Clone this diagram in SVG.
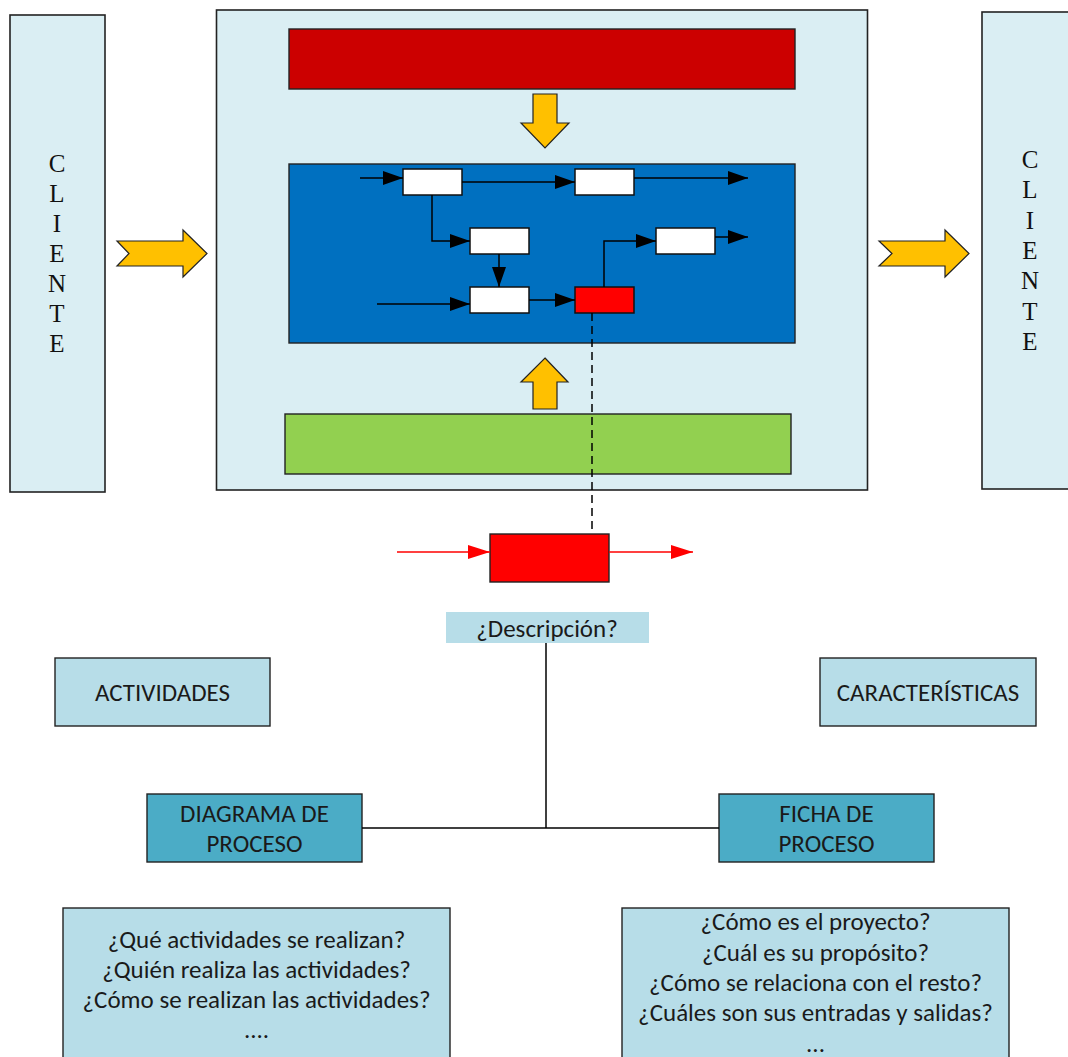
<svg xmlns="http://www.w3.org/2000/svg" width="1068" height="1057" viewBox="0 0 1068 1057">
<style>
.panel{fill:#daeef3;stroke:#222;stroke-width:1.6}
.bar{stroke:#222;stroke-width:1.4}
.wbox{fill:#fff;stroke:#111;stroke-width:1.5}
.yarrow{fill:#ffc000;stroke:#222;stroke-width:1.2;stroke-linejoin:miter}
.lbox{fill:#b7dde8;stroke:#222;stroke-width:1.4}
.dbox{fill:#4bacc6;stroke:#222;stroke-width:1.4}
.cl{font-family:"Liberation Serif","Times New Roman",serif;font-size:25px;fill:#111;text-anchor:middle}
.t{font-family:Carlito,Lato,"Liberation Sans",sans-serif;font-size:25px;fill:#1a1a1a;text-anchor:middle}
.fl{fill:none;stroke:#000;stroke-width:1.5}
.rl{fill:none;stroke:#ff0000;stroke-width:1.5}
</style>
<defs>
<marker id="ah" markerUnits="userSpaceOnUse" markerWidth="20" markerHeight="14" refX="20" refY="7" orient="auto"><path d="M0,0 L20,7 L0,14 z" fill="#000"/></marker>
<marker id="ahr" markerUnits="userSpaceOnUse" markerWidth="22" markerHeight="14" refX="22" refY="7" orient="auto"><path d="M0,0 L22,7 L0,14 z" fill="#ff0000"/></marker>
</defs>

<g id="cliente-izq">
<rect class="panel" x="10" y="15" width="95" height="477"/>
<text class="cl" x="57" y="172">C</text>
<text class="cl" x="57" y="202">L</text>
<text class="cl" x="57" y="232">I</text>
<text class="cl" x="57" y="262">E</text>
<text class="cl" x="57" y="292">N</text>
<text class="cl" x="57" y="322">T</text>
<text class="cl" x="57" y="352">E</text>
</g>

<g id="cliente-der">
<rect class="panel" x="982" y="12" width="100" height="477"/>
<text class="cl" x="1030" y="168">C</text>
<text class="cl" x="1030" y="198">L</text>
<text class="cl" x="1030" y="229">I</text>
<text class="cl" x="1030" y="259">E</text>
<text class="cl" x="1030" y="289">N</text>
<text class="cl" x="1030" y="320">T</text>
<text class="cl" x="1030" y="350">E</text>
</g>

<g id="proceso">
<rect class="panel" x="216.5" y="10" width="651" height="480"/>
<rect class="bar" x="289" y="29" width="506" height="60" fill="#cc0000"/>
<rect class="bar" x="289" y="164" width="506" height="179" fill="#0070c0"/>
<rect class="bar" x="285" y="414" width="506" height="60" fill="#92d050"/>
</g>

<g id="flechas-amarillas">
<polygon class="yarrow" points="117,241 183,241 183,230 207,253.5 183,277 183,266 117,266 129,253.5"/>
<polygon class="yarrow" points="879,241 945,241 945,230 969,253.5 945,277 945,266 879,266 892,253.5"/>
<polygon class="yarrow" points="533,94 557,94 557,123 569,123 545,148 521,123 533,123"/>
<polygon class="yarrow" points="545,358 568,382 557,382 557,409 533,409 533,382 521,382"/>
</g>

<g id="actividades-flujo">
<rect class="wbox" x="403" y="169" width="59" height="26"/>
<rect class="wbox" x="575" y="169" width="59" height="26"/>
<rect class="wbox" x="470" y="228" width="59" height="26"/>
<rect class="wbox" x="656" y="228" width="59" height="26"/>
<rect class="wbox" x="470" y="287" width="59" height="26"/>
<rect class="wbox" x="575" y="287" width="59" height="26" style="fill:#ff0000"/>
</g>

<g id="actividad-detalle">
<rect x="490" y="534" width="119" height="48" fill="#ff0000" stroke="#222" stroke-width="1.4"/>
</g>

<g id="descripcion">
<rect x="446" y="612" width="203" height="31" fill="#b7dde8"/>
<text class="t" x="547" y="637">¿Descripción?</text>
</g>

<g id="actividades">
<rect class="lbox" x="55" y="658" width="215" height="68"/>
<text class="t" x="162.5" y="701">ACTIVIDADES</text>
</g>

<g id="caracteristicas">
<rect class="lbox" x="820" y="658" width="216" height="68"/>
<text class="t" x="928" y="701">CARACTERÍSTICAS</text>
</g>

<g id="diagrama">
<rect class="dbox" x="147" y="794" width="215" height="68"/>
<text class="t" x="254.5" y="822">DIAGRAMA DE</text>
<text class="t" x="254.5" y="852">PROCESO</text>
</g>

<g id="ficha">
<rect class="dbox" x="719" y="794" width="215" height="68"/>
<text class="t" x="826.5" y="822">FICHA DE</text>
<text class="t" x="826.5" y="852">PROCESO</text>
</g>

<g id="preguntas-actividades">
<rect class="lbox" x="63" y="908" width="387" height="160"/>
<text class="t" x="256.5" y="948">¿Qué actividades se realizan?</text>
<text class="t" x="256.5" y="978">¿Quién realiza las actividades?</text>
<text class="t" x="256.5" y="1008">¿Cómo se realizan las actividades?</text>
<text class="t" x="256.5" y="1038">....</text>
</g>

<g id="preguntas-ficha">
<rect class="lbox" x="622" y="908" width="387" height="160"/>
<text class="t" x="815.5" y="930">¿Cómo es el proyecto?</text>
<text class="t" x="815.5" y="961">¿Cuál es su propósito?</text>
<text class="t" x="815.5" y="991">¿Cómo se relaciona con el resto?</text>
<text class="t" x="815.5" y="1021">¿Cuáles son sus entradas y salidas?</text>
<text class="t" x="815.5" y="1052">...</text>
</g>

<g id="conectores">
<path class="fl" d="M360,178 H403" marker-end="url(#ah)"/>
<path class="fl" d="M462,182 H575" marker-end="url(#ah)"/>
<path class="fl" d="M634,178 H748" marker-end="url(#ah)"/>
<path class="fl" d="M432,195 V241 H470" marker-end="url(#ah)"/>
<path class="fl" d="M499,254 V287" marker-end="url(#ah)"/>
<path class="fl" d="M377,304 H470" marker-end="url(#ah)"/>
<path class="fl" d="M529,300 H575" marker-end="url(#ah)"/>
<path class="fl" d="M604,287 V241 H656" marker-end="url(#ah)"/>
<path class="fl" d="M715,237 H748" marker-end="url(#ah)"/>
<path class="fl" d="M592,313 V534" stroke-dasharray="8 5"/>
<path class="rl" d="M397,552 H490" marker-end="url(#ahr)"/>
<path class="rl" d="M609,552 H693" marker-end="url(#ahr)"/>
<path class="fl" d="M546,643 V828" stroke-width="1.3"/>
<path class="fl" d="M362,828 H719" stroke-width="1.3"/>
</g>
</svg>
